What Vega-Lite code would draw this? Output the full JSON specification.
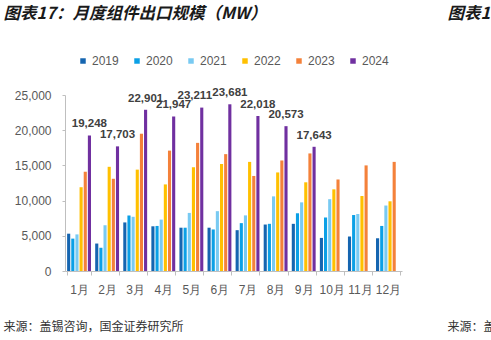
{
  "$schema": "https://vega.github.io/schema/vega-lite/v6.json",
  "width": 337,
  "height": 176,
  "autosize": {"type": "none"},
  "padding": {"left": 65, "top": 95, "right": 89, "bottom": 69},
  "background": "white",
  "config": {"view": {"stroke": null}, "font": "Liberation Sans"},
  "data": {"values": [
    {"month": "1月", "year": "2019", "value": 5300}, {"month": "1月", "year": "2020", "value": 4600}, {"month": "1月", "year": "2021", "value": 5200}, {"month": "1月", "year": "2022", "value": 11900}, {"month": "1月", "year": "2023", "value": 14100}, {"month": "1月", "year": "2024", "value": 19248},
    {"month": "2月", "year": "2019", "value": 3900}, {"month": "2月", "year": "2020", "value": 3300}, {"month": "2月", "year": "2021", "value": 6500}, {"month": "2月", "year": "2022", "value": 14800}, {"month": "2月", "year": "2023", "value": 13100}, {"month": "2月", "year": "2024", "value": 17703},
    {"month": "3月", "year": "2019", "value": 6900}, {"month": "3月", "year": "2020", "value": 7900}, {"month": "3月", "year": "2021", "value": 7700}, {"month": "3月", "year": "2022", "value": 14400}, {"month": "3月", "year": "2023", "value": 19500}, {"month": "3月", "year": "2024", "value": 22901},
    {"month": "4月", "year": "2019", "value": 6350}, {"month": "4月", "year": "2020", "value": 6400}, {"month": "4月", "year": "2021", "value": 7300}, {"month": "4月", "year": "2022", "value": 12300}, {"month": "4月", "year": "2023", "value": 17100}, {"month": "4月", "year": "2024", "value": 21947},
    {"month": "5月", "year": "2019", "value": 6150}, {"month": "5月", "year": "2020", "value": 6150}, {"month": "5月", "year": "2021", "value": 8250}, {"month": "5月", "year": "2022", "value": 14750}, {"month": "5月", "year": "2023", "value": 18200}, {"month": "5月", "year": "2024", "value": 23211},
    {"month": "6月", "year": "2019", "value": 6150}, {"month": "6月", "year": "2020", "value": 5900}, {"month": "6月", "year": "2021", "value": 8500}, {"month": "6月", "year": "2022", "value": 15200}, {"month": "6月", "year": "2023", "value": 16600}, {"month": "6月", "year": "2024", "value": 23681},
    {"month": "7月", "year": "2019", "value": 5800}, {"month": "7月", "year": "2020", "value": 6800}, {"month": "7月", "year": "2021", "value": 7900}, {"month": "7月", "year": "2022", "value": 15500}, {"month": "7月", "year": "2023", "value": 13500}, {"month": "7月", "year": "2024", "value": 22018},
    {"month": "8月", "year": "2019", "value": 6600}, {"month": "8月", "year": "2020", "value": 6700}, {"month": "8月", "year": "2021", "value": 10600}, {"month": "8月", "year": "2022", "value": 14000}, {"month": "8月", "year": "2023", "value": 15700}, {"month": "8月", "year": "2024", "value": 20573},
    {"month": "9月", "year": "2019", "value": 6700}, {"month": "9月", "year": "2020", "value": 8200}, {"month": "9月", "year": "2021", "value": 9750}, {"month": "9月", "year": "2022", "value": 12600}, {"month": "9月", "year": "2023", "value": 16700}, {"month": "9月", "year": "2024", "value": 17643},
    {"month": "10月", "year": "2019", "value": 4700}, {"month": "10月", "year": "2020", "value": 7600}, {"month": "10月", "year": "2021", "value": 10200}, {"month": "10月", "year": "2022", "value": 11600}, {"month": "10月", "year": "2023", "value": 13000},
    {"month": "11月", "year": "2019", "value": 4900}, {"month": "11月", "year": "2020", "value": 7950}, {"month": "11月", "year": "2021", "value": 8100}, {"month": "11月", "year": "2022", "value": 10650}, {"month": "11月", "year": "2023", "value": 15000},
    {"month": "12月", "year": "2019", "value": 4650}, {"month": "12月", "year": "2020", "value": 6400}, {"month": "12月", "year": "2021", "value": 9300}, {"month": "12月", "year": "2022", "value": 9900}, {"month": "12月", "year": "2023", "value": 15500}
  ]},
  "resolve": {"axis": {"x": "independent", "y": "independent"}},
  "layer": [
    {
      "mark": {"type": "bar", "width": {"band": 1}},
      "encoding": {
        "x": {
          "field": "month", "type": "nominal", "sort": null,
          "scale": {"paddingInner": 0.15, "paddingOuter": 0.075},
          "axis": {
            "orient": "bottom", "labelAngle": 0, "labelFontSize": 12, "labelColor": "#595959", "labelPadding": 9,
            "tickBand": "extent", "tickSize": 4, "tickColor": "#bfbfbf", "domainColor": "#bfbfbf",
            "title": "来源：盖锡咨询，国金证券研究所", "titleFont": "Noto Sans CJK SC", "titleFontSize": 12, "titleFontWeight": "normal", "titleColor": "#333333",
            "titleAnchor": "start", "titleAlign": "left", "titleBaseline": "middle", "titleX": -62, "titleY": 55
          }
        },
        "xOffset": {"field": "year", "type": "nominal", "scale": {"paddingInner": 0.25, "paddingOuter": 0}},
        "y": {
          "field": "value", "type": "quantitative",
          "scale": {"domain": [0, 25000], "nice": false},
          "axis": {
            "orient": "left", "values": [0, 5000, 10000, 15000, 20000, 25000], "format": ",.0f", "grid": false,
            "labelFontSize": 12, "labelColor": "#595959", "labelPadding": 11, "tickSize": 3, "tickColor": "#bfbfbf", "domainColor": "#bfbfbf",
            "title": "图表17：月度组件出口规模（MW）", "titleFont": "Noto Sans CJK SC", "titleFontSize": 16.5, "titleFontWeight": "bold", "titleFontStyle": "italic", "titleColor": "#1a1a1a",
            "titleAngle": 0, "titleAnchor": "start", "titleAlign": "left", "titleBaseline": "middle", "titleX": -62, "titleY": -82
          }
        },
        "color": {
          "field": "year", "type": "nominal",
          "scale": {"domain": ["2019", "2020", "2021", "2022", "2023", "2024"], "range": ["#1565B0", "#0BA0E6", "#79CAF2", "#FFC000", "#F4813A", "#7030A0"]},
          "legend": {
            "orient": "none", "legendX": 12, "legendY": -40, "direction": "horizontal", "title": null, "padding": 0,
            "symbolType": "square", "symbolSize": 30, "symbolStrokeWidth": 0, "labelFontSize": 12, "labelColor": "#595959", "labelOffset": 3, "columnPadding": 12
          }
        }
      }
    },
    {
      "transform": [{"filter": "datum.year == '2024' && datum.month != '5月'"}],
      "mark": {"type": "text", "dy": -8, "baseline": "alphabetic", "fontSize": 11.5, "fontWeight": "bold", "color": "#404040"},
      "encoding": {
        "x": {
          "field": "month", "type": "nominal", "sort": null,
          "axis": {"orient": "top", "labels": false, "ticks": false, "domain": false,
            "title": "图表18", "titleFont": "Noto Sans CJK SC", "titleFontSize": 16.5, "titleFontWeight": "bold", "titleFontStyle": "italic", "titleColor": "#1a1a1a",
            "titleAnchor": "start", "titleAlign": "left", "titleBaseline": "middle", "titleX": 382, "titleY": -82}
        },
        "xOffset": {"field": "year", "type": "nominal"},
        "y": {
          "field": "value", "type": "quantitative",
          "axis": {"orient": "right", "labels": false, "ticks": false, "domain": false, "grid": false,
            "title": "来源：盖", "titleFont": "Noto Sans CJK SC", "titleFontSize": 12, "titleFontWeight": "normal", "titleColor": "#333333",
            "titleAngle": 0, "titleAnchor": "start", "titleAlign": "left", "titleBaseline": "middle", "titleX": 45, "titleY": 231}
        },
        "text": {"field": "value", "type": "quantitative", "format": ","}
      }
    },
    {
      "transform": [{"filter": "datum.year == '2024' && datum.month == '5月'"}],
      "mark": {"type": "text", "dy": -9, "dx": -7, "baseline": "alphabetic", "fontSize": 11.5, "fontWeight": "bold", "color": "#404040"},
      "encoding": {
        "x": {"field": "month", "type": "nominal", "sort": null, "axis": null},
        "xOffset": {"field": "year", "type": "nominal"},
        "y": {"field": "value", "type": "quantitative", "axis": null},
        "text": {"field": "value", "type": "quantitative", "format": ","}
      }
    },
    {
      "data": {"values": [{"line": "header"}]},
      "mark": {"type": "rule", "color": "#3E6E8E", "strokeWidth": 2, "x": -65, "x2": 426, "y": -60},
      "encoding": {}
    },
    {
      "data": {"values": [{"line": "footer"}]},
      "mark": {"type": "rule", "color": "#1F4E6A", "strokeWidth": 2, "x": -65, "x2": 426, "y": 217},
      "encoding": {}
    }
  ]
}
